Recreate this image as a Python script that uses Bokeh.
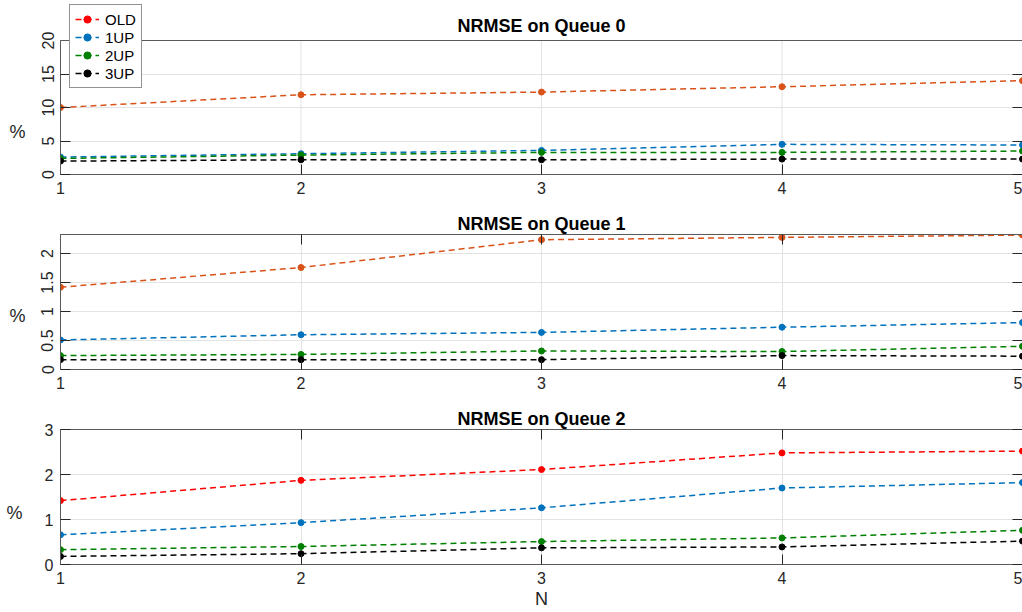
from bokeh.plotting import figure
from bokeh.layouts import column
from bokeh.models import (Legend, LegendItem, FixedTicker, Range1d, NumeralTickFormatter,
                          Span, Label, LinearAxis, CustomJSTickFormatter)
from bokeh.embed import file_html
from bokeh.resources import INLINE

N = [1, 2, 3, 4, 5]
series_names = ["OLD", "1UP", "2UP", "3UP"]
titles = ["NRMSE on Queue 0", "NRMSE on Queue 1", "NRMSE on Queue 2"]

q0_old = [10.0, 11.9, 12.3, 13.1, 14.0]
q0_1up = [2.6, 3.1, 3.6, 4.5, 4.4]
q0_2up = [2.4, 2.9, 3.3, 3.3, 3.5]
q0_3up = [2.0, 2.2, 2.2, 2.3, 2.3]

q1_old = [1.42, 1.76, 2.24, 2.28, 2.32]
q1_1up = [0.51, 0.60, 0.64, 0.73, 0.81]
q1_2up = [0.24, 0.26, 0.32, 0.31, 0.40]
q1_3up = [0.17, 0.17, 0.17, 0.24, 0.23]

q2_old = [1.42, 1.87, 2.11, 2.48, 2.52]
q2_1up = [0.66, 0.93, 1.26, 1.70, 1.82]
q2_2up = [0.33, 0.40, 0.51, 0.59, 0.76]
q2_3up = [0.18, 0.24, 0.37, 0.39, 0.52]

y_max = [20, 2.33, 3]
y_ticks = [[0, 5, 10, 15, 20], [0, 0.5, 1, 1.5, 2], [0, 1, 2, 3]]
x_ticks = [1, 2, 3, 4, 5]

panels = [
    [q0_old, q0_1up, q0_2up, q0_3up],
    [q1_old, q1_1up, q1_2up, q1_3up],
    [q2_old, q2_1up, q2_2up, q2_3up],
]
colors = [
    ["#D95319", "#0072BD", "#008000", "#000000"],
    ["#D95319", "#0072BD", "#008000", "#000000"],
    ["#FF0000", "#0072BD", "#008000", "#000000"],
]
legend_colors = ["#FF0000", "#0072BD", "#008000", "#000000"]

FONT = "Liberation Sans"
TXT = "#262626"
BOX = "#5a5a5a"
GRID = "#e3e3e3"
heights = [204, 195, 213]
borders = [(0, 30), (30, 30), (30, 48)]
label_orient = ["vertical", "vertical", "horizontal"]
label_standoffs = [13, 13, 19]
# the "%" sits below the middle of each box, as in the reference
label_line_heights = [4.4, 1.35, 1.55]
# panel 0: the frame extends above the axes box so the legend can overlap the title area
frame_px = [174, 135, 135]
box_px = [134, 135, 135]


def tick_only_axis(ticks, line_color):
    return LinearAxis(ticker=FixedTicker(ticks=ticks),
                      formatter=CustomJSTickFormatter(code="return ''"),
                      major_label_text_font_size="0px",
                      major_label_standoff=0, major_tick_in=10, major_tick_out=0,
                      major_tick_line_color=TXT, minor_tick_line_color=None,
                      axis_line_color=line_color)


figs = []
for i in range(3):
    y_end = y_max[i] * frame_px[i] / box_px[i]
    p = figure(width=1022, height=heights[i], x_range=Range1d(1, 5),
               y_range=Range1d(0, y_end), output_backend="svg",
               toolbar_location=None, min_border_left=60, min_border_right=0,
               min_border_top=borders[i][0], min_border_bottom=borders[i][1])
    xa = p.below[0]
    ya = p.left[0]
    p.outline_line_color = None
    if i == 0:
        p.title.visible = False
        p.add_layout(Label(x=3, y=y_max[i], y_offset=15, text=titles[i],
                           text_align="center", text_baseline="middle",
                           text_font=FONT, text_font_size="18px",
                           text_font_style="bold", text_color="#000000"))
        p.add_layout(Span(location=y_max[i], dimension="width", line_color=BOX, line_width=1))
    else:
        p.title.text = titles[i]
        p.title.align = "center"
        p.title.text_font = FONT
        p.title.text_font_size = "18px"
        p.title.text_font_style = "bold"
        p.title.text_color = "#000000"
        p.title.standoff = 1
        p.add_layout(tick_only_axis(x_ticks, BOX), "above")
    right_ax = tick_only_axis(y_ticks[i], None)
    right_ax.bounds = (0, y_max[i])
    p.add_layout(right_ax, "right")

    for ax in (xa, ya):
        ax.axis_line_color = BOX
        ax.major_tick_in = 10
        ax.major_tick_out = 0
        ax.major_tick_line_color = TXT
        ax.minor_tick_line_color = None
        ax.major_label_text_font = FONT
        ax.major_label_text_font_size = "16px"
        ax.major_label_text_color = TXT
        ax.major_label_standoff = 7
    xa.ticker = FixedTicker(ticks=x_ticks)
    ya.ticker = FixedTicker(ticks=y_ticks[i])
    ya.bounds = (0, y_max[i])
    ya.formatter = NumeralTickFormatter(format="0.[0]")
    ya.major_label_orientation = label_orient[i]
    ya.axis_label = "\n%"
    ya.axis_label_orientation = "horizontal"
    ya.axis_label_text_line_height = label_line_heights[i]
    ya.axis_label_text_font = FONT
    ya.axis_label_text_font_size = "18px"
    ya.axis_label_text_font_style = "normal"
    ya.axis_label_text_color = TXT
    ya.axis_label_standoff = label_standoffs[i]
    if i == 2:
        xa.axis_label = "N"
        xa.axis_label_text_font = FONT
        xa.axis_label_text_font_size = "18px"
        xa.axis_label_text_font_style = "normal"
        xa.axis_label_text_color = TXT
        xa.axis_label_standoff = 2

    p.ygrid.ticker = FixedTicker(ticks=y_ticks[i])
    p.ygrid.grid_line_color = GRID
    if i == 0:
        p.xgrid.visible = False
        p.segment(x0=x_ticks, y0=[0] * len(x_ticks), x1=x_ticks, y1=[y_max[i]] * len(x_ticks),
                  line_color=GRID, line_width=1, level="underlay")
    else:
        p.xgrid.ticker = FixedTicker(ticks=x_ticks)
        p.xgrid.grid_line_color = GRID

    for vals, col in zip(panels[i], colors[i]):
        p.line(N, vals, line_color=col, line_width=1.5, line_dash="6 4")
        p.scatter(N, vals, size=6, fill_color=col, line_color=col)

    if i == 0:
        leg_items = []
        for name, col, vals in zip(series_names, legend_colors, panels[i]):
            ll = p.line(N, vals, line_color=col, line_width=1.5, line_dash="6 4", visible=False)
            ss = p.scatter(N, vals, size=6, fill_color=col, line_color=col, visible=False)
            leg_items.append(LegendItem(label=name, renderers=[ll, ss]))
        legend = Legend(items=leg_items, location=(9, 86), padding=5, spacing=0,
                        label_height=18, glyph_height=18, glyph_width=24,
                        label_standoff=6, margin=0,
                        label_text_font=FONT, label_text_font_size="15px",
                        label_text_color="#000000",
                        inactive_fill_alpha=0,
                        border_line_color=TXT, border_line_width=1,
                        background_fill_color="white", background_fill_alpha=1)
        p.add_layout(legend, "center")
    figs.append(p)

layout = column(*figs, spacing=0)
open("out.html", "w").write(file_html(layout, INLINE))
